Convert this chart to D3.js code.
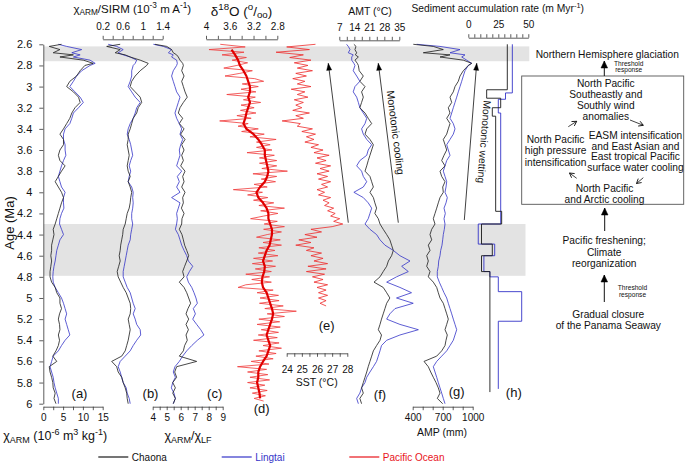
<!DOCTYPE html>
<html><head><meta charset="utf-8">
<script src="https://cdn.jsdelivr.net/npm/d3@7/dist/d3.min.js"></script>
<style>
html,body{margin:0;padding:0;background:#fff;}
svg{display:block;}
text{font-family:"Liberation Sans",Arial,Helvetica,sans-serif;white-space:pre;}
</style></head><body>
<svg id="chart" width="685" height="466"></svg>
<script>
// ================= DATA =================
const ages = [2.60,2.62,2.65,2.68,2.70,2.72,2.75,2.78,2.80,2.85,2.90,2.95,
 3.00,3.05,3.10,3.15,3.20,3.25,3.30,3.35,3.40,3.45,3.50,3.55,3.60,3.65,3.70,3.75,3.80,3.85,3.90,3.95,
 4.00,4.05,4.10,4.15,4.20,4.25,4.30,4.35,4.40,4.45,4.50,4.55,4.60,4.65,4.70,4.75,4.80,4.85,4.90,4.95,
 5.00,5.05,5.10,5.15,5.20,5.25,5.30,5.35,5.40,5.45,5.50,5.55,5.60,5.65,5.70,5.75,5.80,5.85,5.90,5.95,6.00];

const fineAges = [2.6,2.625,2.65,2.675,2.7,2.725,2.75,2.775,2.8,2.825,2.85,2.875,2.9,2.925,2.95,2.975,
 3,3.025,3.05,3.075,3.1,3.125,3.15,3.175,3.2,3.225,3.25,3.275,3.3,3.325,3.35,3.375,3.4,3.425,3.45,3.475,
 3.5,3.525,3.55,3.575,3.6,3.625,3.65,3.675,3.7,3.725,3.75,3.775,3.8,3.825,3.85,3.875,3.9,3.925,3.95,3.975,
 4,4.025,4.05,4.075,4.1,4.125,4.15,4.175,4.2,4.225,4.25,4.275,4.3,4.325,4.35,4.375,4.4,4.425,4.45,4.475,
 4.5,4.525,4.55,4.575,4.6,4.625,4.65,4.675,4.7,4.725,4.75,4.775,4.8,4.825,4.85,4.875,4.9,4.925,4.95,4.975,
 5,5.025,5.05,5.075,5.1,5.125,5.15,5.175,5.2,5.225,5.25,5.275,5.3,5.325,5.35,5.375,5.4,5.425,5.45,5.475,
 5.5,5.525,5.55,5.575,5.6,5.625,5.65,5.675,5.7,5.725,5.75,5.775,5.8,5.825,5.85,5.875,5.9,5.925,5.95,5.975];

// (a) chi_ARM (10^-6 m3 kg-1)
const chiARM_Chaona = [4.6,1.5,4.2,2.5,7.6,4.2,10.1,12.6, 10.5,9.3,8.4,6.7,
 5.9,7.6,8.9,9.3,8.0,7.2,6.7,5.9,5.1,4.2,5.1,5.1,4.2,3.8,4.2,5.5,4.6,3.8,3.0,3.8,
 4.6,5.1,4.6,4.2,3.8,3.4,3.0,2.5,2.7,2.4,2.1,2.1,1.9,2.1,1.9,1.7,1.7,2.1,3.0,3.4,
 4.2,4.2,4.6,4.1,3.8,4.1,4.2,3.8,4.1,3.8,3.2,2.4,3.4,1.5,1.7,2.1,2.4,2.5,3.0,2.7,3.2];
const chiARM_Lingtai = [3.8,5.9,9.7,7.2,9.3,7.6,11.8,13.1, 11.8,9.7,8.4,7.6,
 6.7,8.0,9.3,10.1,8.9,7.6,7.2,6.7,5.5,5.1,5.1,5.5,5.5,5.7,5.1,4.6,4.2,3.8,4.2,4.6,
 5.5,5.1,5.1,5.2,4.6,4.2,4.1,4.6,5.1,4.2,3.8,3.4,3.2,3.0,2.7,2.5,2.4,2.5,3.0,3.8,
 4.6,5.1,5.5,5.9,5.5,5.9,6.3,6.7,5.5,4.6,3.8,2.5,2.1,1.7,2.1,2.5,2.7,3.0,3.4,3.8,3.8];

// (b) chi_ARM/SIRM (10^-3 m A-1)
const ratioSIRM_Chaona = [0.55,0.28,0.55,0.45,0.65,0.75,0.95,1.11, 1.08,0.95,0.85,0.78,
 0.75,0.85,0.95,0.98,0.91,0.88,0.81,0.78,0.75,0.71,0.71,0.69,0.71,0.73,0.71,0.69,0.71,0.75,0.71,0.75,
 0.78,0.76,0.75,0.73,0.69,0.67,0.65,0.61,0.60,0.58,0.56,0.55,0.53,0.55,0.52,0.49,0.51,0.56,0.61,0.67,
 0.71,0.75,0.76,0.75,0.71,0.73,0.75,0.73,0.71,0.68,0.65,0.58,0.38,0.48,0.51,0.58,0.61,0.65,0.68,0.69,0.71];
const ratioSIRM_Lingtai = [0.31,0.48,0.61,0.51,0.61,0.75,0.88,0.85, 0.81,0.78,0.78,0.75,
 0.71,0.78,0.85,0.95,0.88,0.85,0.81,0.75,0.71,0.69,0.73,0.76,0.78,0.80,0.76,0.73,0.76,0.73,0.71,0.78,
 0.81,0.80,0.81,0.80,0.78,0.78,0.80,0.78,0.76,0.75,0.71,0.69,0.67,0.65,0.63,0.61,0.61,0.65,0.69,0.75,
 0.78,0.81,0.85,0.81,0.85,0.88,0.95,0.96,0.88,0.81,0.75,0.65,0.55,0.51,0.55,0.58,0.61,0.67,0.69,0.73,0.75];

// (c) chi_ARM/chi_LF
const ratioLF_Chaona = [4.16,5.00,5.35,5.47,5.71,5.83,5.95,6.14, 6.19,6.07,6.24,6.07,
 6.19,6.31,6.47,6.19,5.95,5.83,6.14,5.90,6.24,6.00,6.31,6.07,6.24,6.07,6.19,6.00,6.31,6.14,6.24,6.07,
 6.31,6.14,6.19,6.05,6.24,6.09,6.07,5.90,6.09,6.19,6.28,6.43,6.57,6.43,6.28,6.14,6.24,5.90,6.24,6.43,
 6.57,6.71,6.52,6.38,6.57,6.38,6.55,6.38,6.47,6.28,6.19,5.90,7.14,5.71,5.57,5.71,5.43,5.62,5.43,5.62,5.47];
const ratioLF_Lingtai = [4.05,4.76,5.35,5.12,5.47,5.35,5.71,5.76, 5.71,5.47,5.35,5.47,
 5.59,5.71,5.95,5.83,5.71,5.59,5.71,5.90,6.07,5.95,6.14,6.00,5.90,5.95,5.83,5.71,6.07,5.76,5.90,5.71,
 5.95,5.35,5.95,5.83,5.71,5.76,5.71,5.62,5.83,5.95,6.07,6.24,6.43,6.55,6.86,6.62,6.43,6.55,6.79,6.95,
 7.09,7.19,6.90,7.05,6.86,7.14,7.43,7.66,7.19,6.79,6.43,6.14,5.90,5.59,5.47,5.62,5.43,5.33,5.52,5.62,5.47];

// (d) benthic d18O (permil): raw on fineAges, smoothed on every second fine age from 2.65
const d18O_raw = [3.76,3.34,3.95,3.36,3.73,3.32,3.56,3.30,3.48,3.70,3.22,3.43,3.68,3.18,3.03,3.39,
 3.12,3.41,3.16,3.65,3.17,3.37,3.08,3.41,3.19,3.42,3.16,3.48,3.24,3.77,3.29,3.46,3.12,3.40,3.02,3.26,
 2.82,3.15,2.92,3.15,2.89,3.31,2.85,3.10,2.81,3.10,2.81,3.06,2.63,3.21,2.81,3.07,2.83,3.19,2.97,3.54,
 3.05,3.30,2.96,3.20,2.86,3.11,2.68,3.08,2.79,3.03,3.25,2.80,3.02,2.68,3.03,2.73,2.97,3.15,2.75,3.04,
 2.73,3.11,2.84,3.12,2.79,3.20,2.88,3.22,2.83,3.17,2.90,3.33,2.93,3.23,2.90,3.33,3.46,2.87,3.14,2.78,
 3.09,2.77,3.10,2.70,3.01,2.48,2.97,2.68,3.11,2.76,3.14,2.75,3.07,2.78,3.12,2.80,3.20,2.77,3.04,2.73,
 3.11,2.82,3.16,2.87,3.24,2.94,3.47,2.98,3.30,2.96,3.26,2.93,3.30,3.01,3.26,2.97,3.22,3.00,3.19,3.03];
const d18O_smooth = [3.57,3.51,3.46,3.43,3.37,3.32,3.29,
 3.26,3.26,3.29,3.26,3.29,3.32,3.34,3.37,3.32,3.20,3.12,3.06,3.01,3.01,2.99,2.97,2.95,2.97,3.01,3.09,
 3.15,3.12,3.04,2.98,2.95,2.95,2.92,2.89,2.89,2.91,2.93,2.98,3.01,3.04,3.01,3.02,3.05,3.06,3.04,2.98,
 2.95,2.92,2.89,2.87,2.89,2.92,2.95,2.98,2.95,2.92,2.95,2.98,3.04,3.09,3.12,3.12,3.14,3.12,3.10,3.09];

// (e) Pacific SST (deg C) on fineAges from 2.6
const sst = [25.9,24.0,25.5,23.3,25.1,24.2,25.6,24.5,25.4,24.7,25.7,24.6,25.3,24.4,25.2,24.7,
 25.6,24.3,25.2,24.7,25.4,24.5,25.1,24.6,25.0,24.4,25.5,24.6,25.1,23.7,24.9,24.7,25.7,25.0,25.9,25.3,
 25.8,25.2,26.1,25.6,26.4,25.8,26.8,26.0,26.6,25.9,26.9,26.2,26.8,26.0,26.7,26.1,26.9,26.3,26.7,26.0,
 26.5,26.1,26.9,26.4,26.8,26.5,27.1,26.7,27.2,26.9,27.5,27.1,27.7,27.0,25.6,26.3,25.2,26.0,24.8,25.6,
 24.6,25.8,25.3,26.3,25.6,26.4,25.8,26.7,25.4,26.6,25.3,26.5,25.7,26.4,25.8,26.7,26.0,26.6,26.1,26.7,
 26.1,26.6,26.2,26.6];

// (f) AMT (deg C)
const amt_Chaona = [13.8,14.8,14.3,15.1,14.5,15.9,14.3,15.4, 15.9,16.3,18.2,16.6,
 19.0,17.4,18.2,17.4,16.6,19.0,20.5,22.1,19.8,19.0,21.3,22.9,22.1,21.3,20.5,19.8,19.0,21.3,22.1,22.9,
 21.3,22.9,23.6,24.4,23.6,25.2,26.0,27.5,29.1,30.6,31.4,32.2,31.4,29.9,29.1,27.5,26.0,23.2,27.5,29.1,
 30.6,29.1,28.3,27.5,26.7,26.0,25.2,26.7,26.0,24.4,22.9,22.1,21.3,20.5,19.8,19.0,18.2,17.4,18.2,16.6,17.4];
const amt_Lingtai = [10.4,11.2,12.0,11.2,13.5,12.8,12.8,13.8, 14.3,13.5,15.1,16.6,
 14.3,13.5,15.1,15.9,16.6,18.2,19.8,19.0,17.4,18.2,19.8,22.1,20.5,19.8,16.6,15.1,17.4,18.2,19.8,18.2,
 13.8,18.2,20.5,22.1,21.3,20.5,19.0,21.3,24.4,26.0,28.3,32.2,35.3,40.0,36.1,39.2,33.7,29.1,35.3,40.7,
 33.7,41.5,33.0,30.6,29.1,35.3,43.9,35.3,29.1,26.7,26.0,25.2,24.4,22.9,21.3,19.8,19.0,17.4,16.6,15.1,15.9];

// (g) AMP (mm)
const amp_Chaona = [406,606,706,506,773,673,906,990, 956,906,873,856,
 823,806,773,790,756,773,740,773,756,740,706,723,740,713,690,723,673,690,723,700,
 706,673,656,640,623,606,623,590,573,590,556,573,540,556,540,573,556,606,640,656,
 673,706,723,740,756,740,723,746,733,723,690,640,513,556,580,606,633,656,673,646,700];
const amp_Lingtai = [440,673,873,773,923,890,940,990, 956,923,906,890,
 873,856,840,823,806,790,773,806,823,806,773,740,756,773,740,723,706,723,740,733,
 723,746,733,713,726,713,723,716,706,700,693,680,673,660,656,646,646,666,690,713,
 740,756,773,790,806,823,840,823,806,773,740,690,640,606,623,640,656,673,690,706,723];

// (h) sediment accumulation rate (m/Myr), step intervals
const sarBounds_Chaona = [2.60,3.03,3.11,3.20,3.28,4.18,4.30,4.49,4.60,4.75,5.89];
const sar_Chaona       = [32.5,15.3,27.0,20.0,22.8,27.8,11.0,20.0,11.0,18.0];
const sarBounds_Lingtai = [2.60,3.06,3.12,3.25,4.18,4.30,4.49,4.60,4.75,4.80,4.94,5.22,5.86];
const sar_Lingtai       = [36.7,31.0,25.0,27.0,27.0,8.3,22.0,13.0,18.0,25.0,44.5,25.0];

// highlighted intervals (Ma)
const bands = [[2.62,2.76],[4.30,4.79]];

// tick values / labels
const ageLabels = [2.6,2.8,3,3.2,3.4,3.6,3.8,4,4.2,4.4,4.6,4.8,5,5.2,5.4,5.6,5.8,6];
const ticksA = [0,2.5,5,7.5,10,12.5,15], labelsA = [0,5,10,15];
const ticksB = [0.2,0.4,0.6,0.8,1,1.2,1.4], labelsB = [0.2,0.6,1,1.4];
const ticksC = [4,4.5,5,5.5,6,6.5,7,7.5,8,8.5,9], labelsC = [4,5,6,7,8,9];
const ticksD = [4,3.8,3.6,3.4,3.2,3,2.8], labelsD = [4,3.6,3.2,2.8];
const ticksE = [24,24.5,25,25.5,26,26.5,27,27.5,28], labelsE = [24,25,26,27,28];
const ticksF = [7,10.5,14,17.5,21,24.5,28,31.5,35], labelsF = [7,14,21,28,35];
const ticksG = [400,500,600,700,800,900,1000], labelsG = [400,700,1000];
const ticksH = [0,5,10,15,20,25,30,35,40,45,50], labelsH = [0,25,50];

// ================= DRAW =================
const svg = d3.select("#chart");
const BLACK = "#1a1a1a", BLUE = "#3434c8", RED = "#e8141b";

const defs = svg.append("defs");
function marker(id, d, fill, w){
  defs.append("marker").attr("id",id).attr("viewBox","-9 -5 10 10").attr("refX",0).attr("refY",0)
    .attr("markerWidth",10).attr("markerHeight",10).attr("markerUnits","userSpaceOnUse").attr("orient","auto")
    .append("path").attr("d",d).attr("fill",fill?"#000":"none").attr("stroke","#000").attr("stroke-width",w);
}
marker("ahBig","M-7,-3.3L0,0L-7,3.3Z",true,0.5);
marker("ahThin","M-7,-2.6L0,0L-7,2.6Z",true,0.3);
marker("ahOpen","M-4.5,-2.6L0,0L-4.5,2.6",false,0.8);

const y = d3.scaleLinear().domain([2.6,6]).range([44.3,403.7]);
const xa = d3.scaleLinear().domain([0,15]).range([43.3,102.7]);
const xb = d3.scaleLinear().domain([0.2,1.4]).range([102.7,162.7]);
const xc = d3.scaleLinear().domain([4,9]).range([152.7,222.7]);
const xd = d3.scaleLinear().domain([4,2.8]).range([206,277.3]);
const xe = d3.scaleLinear().domain([24,28]).range([286.7,347.3]);
const xf = d3.scaleLinear().domain([7,35]).range([339.3,399.3]);
const xg = d3.scaleLinear().domain([400,1000]).range([412.7,472.7]);
const xh = d3.scaleLinear().domain([0,50]).range([468.3,528.3]);

// bands
const bandRight = [529.3,525.5];
bands.forEach((b,i)=>{
  svg.append("rect").attr("x",43.8).attr("y",y(b[0])).attr("width",bandRight[i]-43.8)
    .attr("height",y(b[1])-y(b[0])).attr("fill","#e3e3e3");
});

// lines
function series(xs, vals, ag, color, w){
  const pts = vals.map((v,i)=>[v, ag[i]]);
  svg.append("path").datum(pts)
    .attr("d", d3.line().x(d=>xs(d[0])).y(d=>y(d[1])))
    .attr("fill","none").attr("stroke",color).attr("stroke-width",w).attr("stroke-linejoin","round");
}
series(xa, chiARM_Lingtai, ages, BLUE, 0.8);
series(xa, chiARM_Chaona, ages, BLACK, 0.8);
series(xb, ratioSIRM_Lingtai, ages, BLUE, 0.8);
series(xb, ratioSIRM_Chaona, ages, BLACK, 0.8);
series(xc, ratioLF_Lingtai, ages, BLUE, 0.8);
series(xc, ratioLF_Chaona, ages, BLACK, 0.8);
series(xd, d18O_raw, fineAges, "#f03a3a", 0.8);
const smoothAges = fineAges.filter((a,i)=> i%2===0 && a>=2.649);
series(xd, d18O_smooth, smoothAges, "#e00000", 2.2);
series(xe, sst, fineAges, "#ee2a2a", 0.8);
series(xf, amt_Lingtai, ages, BLUE, 0.8);
series(xf, amt_Chaona, ages, BLACK, 0.8);
series(xg, amp_Lingtai, ages, BLUE, 0.8);
series(xg, amp_Chaona, ages, BLACK, 0.8);

function steps(bounds, rates){
  const p=[]; rates.forEach((r,i)=>{p.push([r,bounds[i]]); p.push([r,bounds[i+1]]);}); return p;
}
[[sarBounds_Lingtai,sar_Lingtai,BLUE],[sarBounds_Chaona,sar_Chaona,BLACK]].forEach(([b,r,c])=>{
  svg.append("path").datum(steps(b,r))
    .attr("d", d3.line().x(d=>xh(d[0])).y(d=>y(d[1])))
    .attr("fill","none").attr("stroke",c).attr("stroke-width",0.9);
});

// axes
function styleAxis(g, fs){
  g.select(".domain").attr("stroke","#333").attr("stroke-width",0.8);
  g.selectAll(".tick line").attr("stroke","#333").attr("stroke-width",0.8);
  g.selectAll("text").attr("font-size",fs).attr("fill","#111").attr("font-family",null);
}
function hAxis(scale, yPos, top, ticks, labels, pad){
  const g = svg.append("g").attr("transform",`translate(0,${yPos})`);
  const gen = (top?d3.axisTop:d3.axisBottom)(scale).tickValues(ticks).tickSize(3.5).tickSizeOuter(0)
    .tickPadding(pad).tickFormat(d=> labels.some(l=>Math.abs(l-d)<1e-9) ? String(+d.toFixed(2)) : "");
  g.call(gen); styleAxis(g, 10);
}
hAxis(xa, 406.7, false, ticksA, labelsA, 4);
hAxis(xb, 39.3, true, ticksB, labelsB, 6);
hAxis(xc, 406.7, false, ticksC, labelsC, 4);
hAxis(xd, 39.3, true, ticksD, labelsD, 6);
hAxis(xe, 353.3, false, ticksE, labelsE, 9);
hAxis(xf, 40.3, true, ticksF, labelsF, 6);
hAxis(xg, 406.7, false, ticksG, labelsG, 4);
hAxis(xh, 37.7, true, ticksH, labelsH, 6);

// left age axis
const gl = svg.append("g").attr("transform","translate(43.3,0)");
gl.call(d3.axisLeft(y).tickValues(d3.range(2.6,6.0001,0.04)).tickSize(2).tickSizeOuter(0).tickFormat(""));
gl.call(d3.axisLeft(y).tickValues(ageLabels).tickSize(4).tickSizeOuter(0).tickPadding(7)
  .tickFormat(d=>String(+d.toFixed(1))));
styleAxis(gl, 11);

// text helpers
function rich(x, yy, parts, size, anchor, color){
  const t = svg.append("text").attr("x",x).attr("y",yy).attr("font-size",size)
    .attr("text-anchor",anchor||"start").attr("fill",color||"#111");
  let cur = 0;
  parts.forEach(([s,type])=>{
    const off = type==="sup" ? -size*0.38 : type==="sub" ? size*0.22 : 0;
    t.append("tspan").attr("dy", off-cur).attr("font-size", type? size*0.72 : size).text(s);
    cur = off;
  });
  return t;
}
function label(x, yy, s, size, anchor, color){
  return svg.append("text").attr("x",x).attr("y",yy).attr("font-size",size)
    .attr("text-anchor",anchor||"middle").attr("fill",color||"#111").text(s);
}

// titles
rich(132.3, 12.8, [["χ",""],["ARM","sub"],["/SIRM (10",""],["-3","sup"],[" m A",""],["-1","sup"],[")",""]], 11.5, "middle");
rich(241.5, 15.5, [["δ",""],["18","sup"],["O (",""],["o","sup"],["/",""],["oo","sub"],[")",""]], 13.5, "middle");
label(370, 15, "AMT (°C)", 10.5);
rich(497.7, 12, [["Sediment accumulation rate (m Myr",""],["-1","sup"],[")",""]], 10.3, "middle");
rich(3.3, 440, [["χ",""],["ARM","sub"],[" (10",""],["-6","sup"],[" m",""],["3","sup"],[" kg",""],["-1","sup"],[")",""]], 12.5, "start");
rich(188, 440, [["χ",""],["ARM","sub"],["/χ",""],["LF","sub"]], 12.5, "middle");
label(316.7, 386, "SST (°C)", 10.5);
label(442, 436, "AMP (mm)", 10.5);
svg.append("text").attr("transform","translate(14,223) rotate(-90)").attr("text-anchor","middle")
  .attr("font-size",13).attr("fill","#111").text("Age (Ma)");

// panel letters
[["(a)",79.5,397.5],["(b)",150.5,397.5],["(c)",214.7,397.5],["(d)",261.7,413],["(e)",326.7,329.5],
 ["(f)",380,399],["(g)",456.7,396],["(h)",513.8,397]].forEach(([s,x,yy])=>label(x,yy,s,13));

// monotonic arrows
function arrow(x1,y1,x2,y2,m,w){
  svg.append("line").attr("x1",x1).attr("y1",y1).attr("x2",x2).attr("y2",y2)
    .attr("stroke","#111").attr("stroke-width",w||0.8).attr("marker-end",`url(#${m})`);
}
arrow(348.3,222.7,328.3,63.3,"ahThin");
arrow(398.3,222.7,378.3,63.3,"ahThin");
arrow(464.3,220,476.7,63.3,"ahThin");
svg.append("text").attr("transform","translate(392,133) rotate(82.8)").attr("text-anchor","middle")
  .attr("font-size",10.5).attr("fill","#111").text("Monotonic cooling");
svg.append("text").attr("transform","translate(480.5,141.5) rotate(94.5)").attr("text-anchor","middle")
  .attr("font-size",10.3).attr("fill","#111").text("Monotonic wetting");

// flow chart
svg.append("rect").attr("x",521.7).attr("y",76).attr("width",162).attr("height",128.3)
  .attr("fill","none").attr("stroke","#555").attr("stroke-width",0.9);
label(607.3,58,"Northern Hemisphere glaciation",10.2);
arrow(604.3,76,604.3,61,"ahBig",1);
label(628.7,65.5,"Threshold",6.6); label(628.7,71.5,"response",6.6);
[["North Pacific",86.5],["Southeastly and",97.8],["Southly wind",109.1],["anomalies",120.4]]
  .forEach(([s,yy])=>label(605.8,yy,s,10.2));
[["North Pacific",143],["high pressure",154.3],["intensification",165.6]].forEach(([s,yy])=>label(555.6,yy,s,10.2));
[["EASM intensification",138.8],["and East Asian and",150.1],["East tropical Pacific",160],["surface water cooling",171]]
  .forEach(([s,yy])=>label(635.5,yy,s,10.2));
[["North Pacific",192],["and Arctic cooling",202.5]].forEach(([s,yy])=>label(604.5,yy,s,10.2));
arrow(568.3,126.7,576.7,121.3,"ahOpen",0.8);
arrow(630,120,643.3,125.3,"ahOpen",0.8);
arrow(576.7,178.3,569.5,173,"ahOpen",0.8);
arrow(643.3,177.7,636.5,183.5,"ahOpen",0.8);
arrow(604.7,231,604.7,208,"ahBig",1);
[["Pacific freshening;",243.5],["Climate",255.5],["reorganization",267]].forEach(([s,yy])=>label(604.2,yy,s,10.2));
arrow(604.3,302,604.3,275,"ahBig",1);
label(632.5,290,"Threshold",6.6); label(632.5,297,"response",6.6);
[["Gradual closure",317.5],["of the Panama Seaway",328.5]].forEach(([s,yy])=>label(608.3,yy,s,10.2));

// legend
[["Chaona",98.3,BLACK,"#111"],["Lingtai",221.7,BLUE,BLUE],["Pacific Ocean",349.3,RED,RED]].forEach(([s,x,c,tc])=>{
  svg.append("line").attr("x1",x).attr("x2",x+30).attr("y1",457).attr("y2",457).attr("stroke",c).attr("stroke-width",1.2);
  label(x+33.5,460.8,s,10,"start",tc);
});
</script>
</body></html>
